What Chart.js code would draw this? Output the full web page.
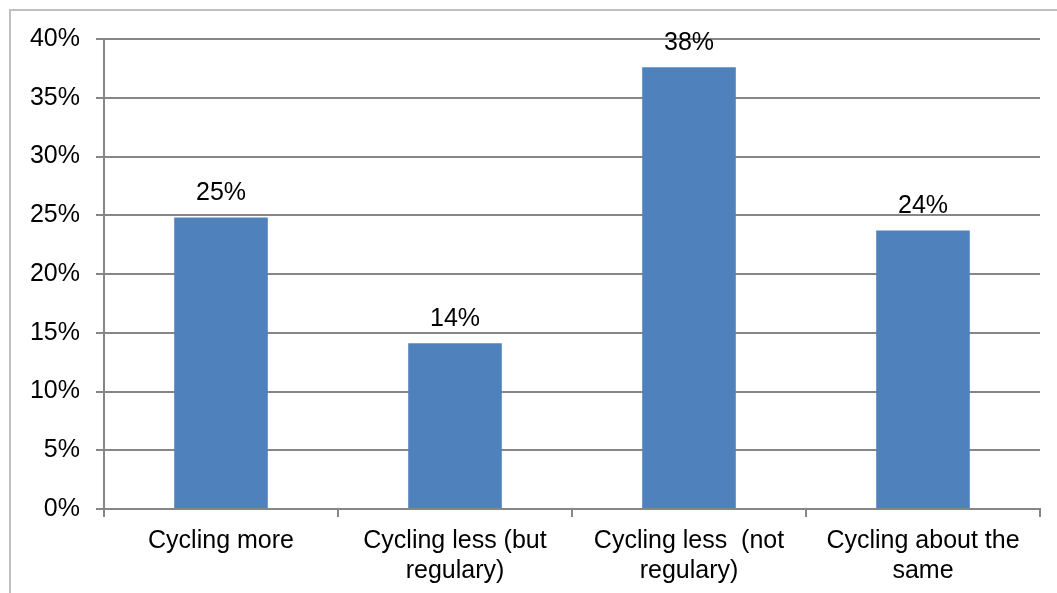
<!DOCTYPE html>
<html>
<head>
<meta charset="utf-8">
<script src="https://cdn.jsdelivr.net/npm/chart.js@4"></script>
<style>
  body { margin: 0; background: #fff; }
  #wrap { position: relative; width: 1057px; height: 593px; overflow: hidden; }
  #frame { position: absolute; left: 9px; top: 9px; width: 1100px; height: 700px;
           border-left: 2px solid #BFBFBF; border-top: 2px solid #BFBFBF; }
  canvas { position: absolute; left: 0; top: 0; }
</style>
</head>
<body>
<div id="wrap">
  <div id="frame"></div>
  <canvas id="myChart" width="1057" height="593"></canvas>
</div>
<script>
const categories = [
  'Cycling more',
  ['Cycling less (but', 'regulary)'],
  ['Cycling less  (not', 'regulary)'],
  ['Cycling about the', 'same']
];
const shares = [24.8, 14.1, 37.6, 23.7];
const shareLabels = ['25%', '14%', '38%', '24%'];

const gridGrey = '#868686';
const fontFamily = '"Liberation Sans", Arial, sans-serif';
const fontSize = 25;

// draws the value above each bar
const barLabels = {
  id: 'barLabels',
  afterDatasetsDraw(chart) {
    const ctx = chart.ctx;
    const meta = chart.getDatasetMeta(0);
    ctx.save();
    ctx.font = fontSize + 'px ' + fontFamily;
    ctx.fillStyle = '#000';
    ctx.textAlign = 'center';
    ctx.textBaseline = 'bottom';
    meta.data.forEach((bar, i) => {
      ctx.fillText(shareLabels[i], bar.x, bar.y - 12);
    });
    ctx.restore();
  }
};

const ctx = document.getElementById('myChart').getContext('2d');

new Chart(ctx, {
  type: 'bar',
  data: {
    labels: categories,
    datasets: [{
      data: shares,
      backgroundColor: '#4F81BD',
      barPercentage: 0.4,
      categoryPercentage: 1.0
    }]
  },
  options: {
    responsive: false,
    animation: false,
    layout: { padding: { top: 39, right: 17, left: 0, bottom: 0 } },
    plugins: {
      legend: { display: false },
      tooltip: { enabled: false }
    },
    scales: {
      x: {
        grid: { drawOnChartArea: false, drawTicks: true, tickLength: 8, color: gridGrey, lineWidth: 2 },
        border: { color: gridGrey, width: 2 },
        ticks: {
          color: '#000',
          padding: 9,
          maxRotation: 0,
          font: { family: fontFamily, size: fontSize, lineHeight: 1.2 }
        },
        afterFit(scale) { scale.height = 84; }
      },
      y: {
        min: 0,
        max: 40,
        grid: { color: gridGrey, lineWidth: 2, tickLength: 8 },
        border: { color: gridGrey, width: 2 },
        ticks: {
          stepSize: 5,
          color: '#000',
          padding: 16,
          font: { family: fontFamily, size: fontSize },
          callback: v => v + '%'
        },
        afterFit(scale) { scale.width = 104; }
      }
    }
  },
  plugins: [barLabels]
});
</script>
</body>
</html>
